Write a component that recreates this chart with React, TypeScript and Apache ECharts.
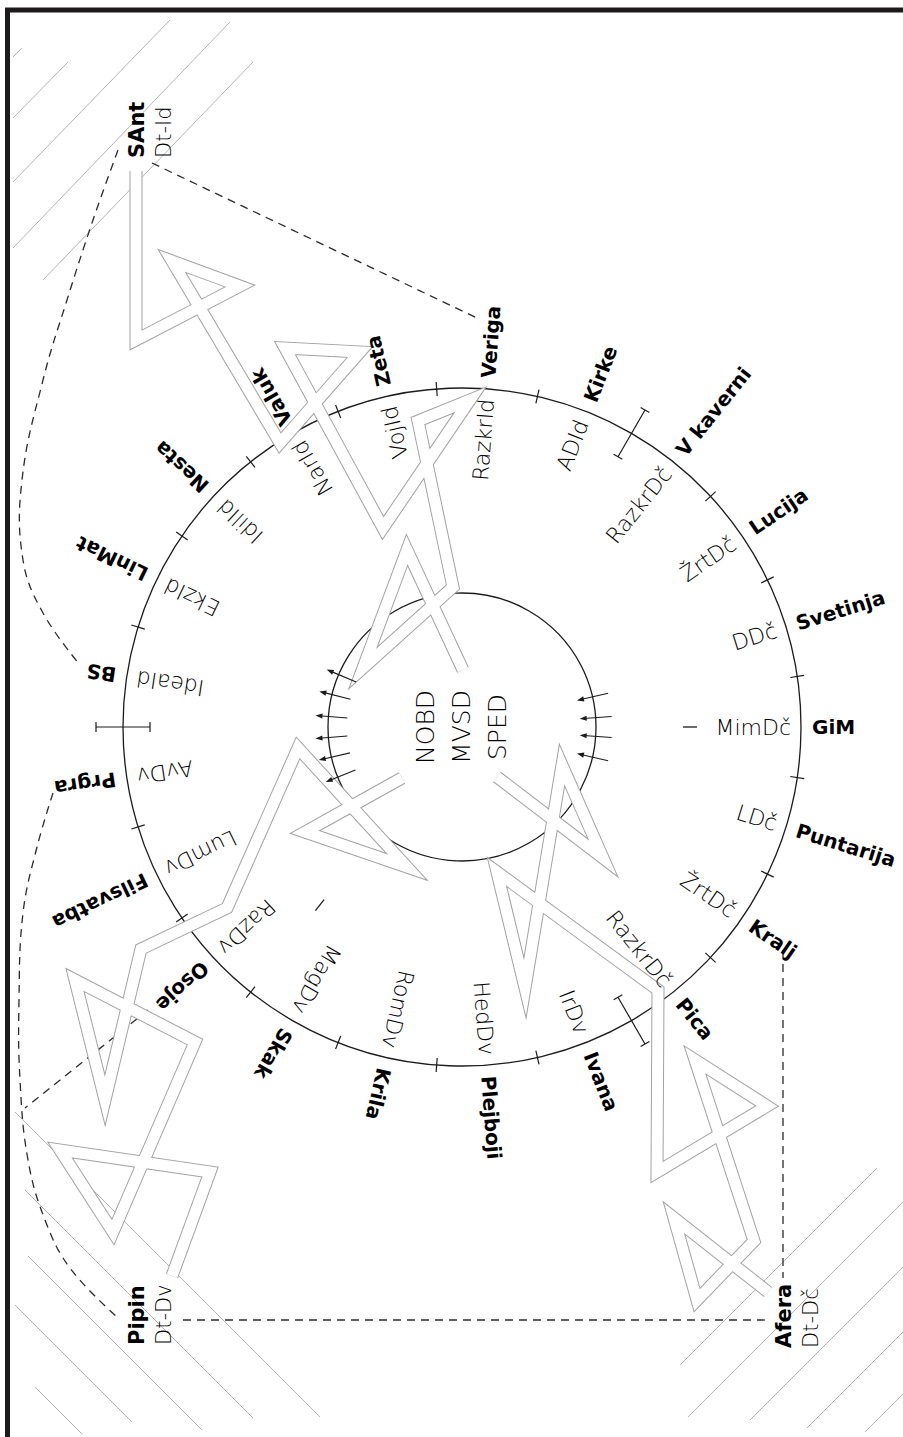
import React, { useEffect, useRef } from "react";
import * as echarts from "echarts";

const W = 903;
const H = 1437;
const CX = 462;
const CY = 727;
const R = 339;

// Labels around the big circle, clockwise from the right (GiM)
const outerLabels = [
  "GiM", "Puntarija", "Kralj", "Pica", "Ivana", "Plejboji", "Krila", "Skak", "Osoje",
  "Filsvatba", "Prgra", "BS", "LinMat", "Nesta", "Valuk", "Zeta", "Veriga", "Kirke",
  "V kaverni", "Lucija", "Svetinja",
];
const innerLabels = [
  "MimDč", "LDč", "ŽrtDč", "RazkrDč", "IrDv", "HedDv", "RomDv", "MagDv", "RazDv",
  "LumDv", "AvDv", "IdeaId", "EkzId", "IdilId", "NarId", "VojId", "RazkrId", "ADId",
  "RazkrDč", "ŽrtDč", "DDč",
];
// boundaries (after these label indices) drawn as I-beams
const beamAfter = [3, 10, 17];
const innerCircleR = 134;
const dashAngles = [0, 128.6];
const leftArrowAngles = [158, 167, 175.5, 184.5, 194, 203];
const rightArrowAngles = [347, 356, 4, 13];
const leftArrowRadii = [115, 147];
const rightArrowRadii = [150, 118];
const centerTexts = ["NOBD", "MVSD", "SPED"];
const centerTextOffsets = [-37, -1, 35];

const cornerNames = ["SAnt", "Pipin", "Afera"];
const cornerCodes = ["Dt-Id", "Dt-Dv", "Dt-Dč"];
const cornerX = [137, 137, 784];
const cornerY = [158, 1345, 1348];

const zigzagA = [
  [136, 171], [136, 340], [240, 286], [172, 261], [280, 443], [360, 352], [285, 348],
  [383, 528], [470, 400], [418, 421], [453, 587], [363, 668], [407, 550], [463, 670],
];
const zigzagB = [
  [172, 1276], [210, 1172], [60, 1150], [113, 1232], [195, 1042], [75, 980], [105, 1100],
  [141, 949], [227, 908], [298, 748], [407, 867], [305, 832], [402, 778],
];
const zigzagC = [
  [768, 1292], [674, 1218], [697, 1300], [754, 1241], [695, 1060], [767, 1106], [657, 1172],
  [658, 990], [497, 872], [525, 988], [562, 765], [603, 858], [497, 777],
];
const zigzags = [zigzagA, zigzagB, zigzagC];

const linkSAntVeriga = [[152, 163], [477, 318]];
const linkSAntBS = [[118, 150], [93, 220], [67, 300], [43, 380], [22, 480], [23, 560], [43, 613], [80, 665]];
const linkPrgraPipin = [[53, 793], [37, 847], [23, 913], [19, 1000], [20, 1080], [28, 1160], [45, 1220], [70, 1268], [117, 1317]];
const linkOsoje = [[148, 1010], [25, 1108]];
const linkPipinAfera = [[183, 1320], [765, 1320]];
const linkKraljAfera = [[783, 950], [783, 1278]];
const links = [linkSAntVeriga, linkSAntBS, linkPrgraPipin, linkOsoje, linkPipinAfera, linkKraljAfera];

const hatchTopLeft = [
  [13, 57, 22, 48], [13, 118, 68, 62], [13, 182, 170, 20], [13, 248, 230, 22], [43, 280, 253, 62],
];
const hatchBottomLeft = [
  [15, 1112, 320, 1417], [25, 1190, 253, 1418], [28, 1256, 202, 1430], [15, 1305, 132, 1422], [35, 1387, 82, 1434],
];
const hatchBottomRight = [
  [877, 1168, 680, 1365], [903, 1202, 688, 1417], [903, 1267, 750, 1420], [903, 1332, 807, 1428], [903, 1394, 865, 1432],
];
const hatch = [...hatchTopLeft, ...hatchBottomLeft, ...hatchBottomRight];

const INK = "#1c1a1b";
const BOLD_FONT = "'DejaVu Sans', 'Noto Sans', sans-serif";
const THIN_FONT = "'DejaVu Sans', 'Noto Sans', sans-serif";

export default function App() {
  const ref = useRef<HTMLDivElement>(null);

  useEffect(() => {
    if (!ref.current) return;
    const chart = echarts.init(ref.current, null, { renderer: "svg", width: W, height: H });
    const n = outerLabels.length;
    const SEG = 360 / n;

    const line = (p1: number[], p2: number[], stroke = INK, lw = 1.2) => ({
      type: "line",
      shape: { x1: p1[0], y1: p1[1], x2: p2[0], y2: p2[1] },
      style: { stroke, lineWidth: lw },
    });

    const option: any = {
      animation: false,
      backgroundColor: "#ffffff",
      grid: { left: 0, top: 0, right: 0, bottom: 0, show: false },
      xAxis: { type: "value", min: 0, max: W, show: false },
      yAxis: { type: "value", min: 0, max: H, inverse: true, show: false },
      polar: { center: [CX, CY], radius: R },
      angleAxis: { type: "value", min: 0, max: 360, startAngle: 0, clockwise: true, show: false },
      radiusAxis: { type: "value", min: 0, max: 1, show: false },
      graphic: [
        { type: "line", z: 100, shape: { x1: 5, y1: 10, x2: W, y2: 10 }, style: { stroke: INK, lineWidth: 5 } },
        { type: "line", z: 100, shape: { x1: 7.5, y1: 8, x2: 7.5, y2: H }, style: { stroke: INK, lineWidth: 5 } },
      ],
      series: [
        {
          name: "hatch",
          type: "custom",
          coordinateSystem: "cartesian2d",
          z: 1,
          dimensions: ["x1", "y1", "x2", "y2"],
          encode: { x: [0, 2], y: [1, 3] },
          data: hatch,
          renderItem: (params: any, api: any) => {
            const p1 = api.coord([api.value(0), api.value(1)]);
            const p2 = api.coord([api.value(2), api.value(3)]);
            return line(p1, p2, "#b4b4b4", 1);
          },
        },
        {
          name: "links",
          type: "custom",
          coordinateSystem: "cartesian2d",
          z: 2,
          data: links.map((_, i) => [i, 0]),
          renderItem: (params: any, api: any) => {
            const pts = links[params.dataIndex].map((p) => api.coord(p));
            return {
              type: "polyline",
              shape: { points: pts, smooth: pts.length > 2 ? 0.4 : 0 },
              style: { stroke: "#2a2a2a", lineWidth: 1.3, fill: "none", lineDash: [8, 6] },
            };
          },
        },
        {
          name: "circles",
          type: "custom",
          coordinateSystem: "polar",
          z: 3,
          data: [[0, 0]],
          renderItem: (params: any, api: any) => {
            const c = api.coord([0, 0]);
            const o = api.coord([1, 0]);
            const rOuter = o[0] - c[0];
            return {
              type: "group",
              children: [
                { type: "circle", shape: { cx: c[0], cy: c[1], r: rOuter }, style: { fill: "none", stroke: INK, lineWidth: 1.3 } },
                { type: "circle", shape: { cx: c[0], cy: c[1], r: rOuter * innerCircleR / R }, style: { fill: "none", stroke: INK, lineWidth: 1.3 } },
              ],
            };
          },
        },
        {
          name: "ticks",
          type: "custom",
          coordinateSystem: "polar",
          z: 3,
          data: outerLabels.map((_, i) => [1, (i + 0.5) * SEG]),
          renderItem: (params: any, api: any) => {
            const i = params.dataIndex;
            const a = api.value(1);
            const isBeam = beamAfter.indexOf(i) >= 0;
            const half = isBeam ? 27 : 7;
            const p1 = api.coord([(R - half) / R, a]);
            const p2 = api.coord([(R + half) / R, a]);
            const children: any[] = [line(p1, p2, INK, 1.2)];
            if (isBeam) {
              const rad = (a * Math.PI) / 180;
              const tx = -Math.sin(rad);
              const ty = Math.cos(rad);
              [p1, p2].forEach((p: number[]) => {
                children.push(line([p[0] - tx * 5, p[1] - ty * 5], [p[0] + tx * 5, p[1] + ty * 5], INK, 1.2));
              });
            }
            return { type: "group", children };
          },
        },
        {
          name: "zigzags",
          type: "custom",
          coordinateSystem: "cartesian2d",
          z: 5,
          data: zigzags.map((_, i) => [i, 0]),
          renderItem: (params: any, api: any) => {
            const pts = zigzags[params.dataIndex].map((p) => api.coord(p));
            return {
              type: "group",
              children: [
                { type: "polyline", shape: { points: pts }, style: { stroke: "#a2a2a2", lineWidth: 13, fill: "none", lineJoin: "miter", miterLimit: 30 } },
                { type: "polyline", shape: { points: pts }, style: { stroke: "#ffffff", lineWidth: 11, fill: "none", lineJoin: "miter", miterLimit: 30 } },
              ],
            };
          },
        },
        {
          name: "arrows",
          type: "custom",
          coordinateSystem: "polar",
          z: 6,
          data: [
            ...leftArrowAngles.map((a) => [leftArrowRadii[0] / R, a, leftArrowRadii[1] / R]),
            ...rightArrowAngles.map((a) => [rightArrowRadii[0] / R, a, rightArrowRadii[1] / R]),
          ],
          renderItem: (params: any, api: any) => {
            const a = api.value(1);
            const t = api.coord([api.value(0), a]);
            const h = api.coord([api.value(2), a]);
            const dx = h[0] - t[0];
            const dy = h[1] - t[1];
            const len = Math.sqrt(dx * dx + dy * dy);
            const ux = dx / len;
            const uy = dy / len;
            const bx = h[0] - ux * 7;
            const by = h[1] - uy * 7;
            return {
              type: "group",
              children: [
                line(t, [h[0] - ux * 4, h[1] - uy * 4], INK, 1.1),
                {
                  type: "polygon",
                  shape: { points: [[h[0], h[1]], [bx - uy * 2.6, by + ux * 2.6], [bx + uy * 2.6, by - ux * 2.6]] },
                  style: { fill: INK, stroke: "none" },
                },
              ],
            };
          },
        },
        {
          name: "dashes",
          type: "custom",
          coordinateSystem: "polar",
          z: 6,
          data: dashAngles.map((a) => [221 / R, a]),
          renderItem: (params: any, api: any) => {
            const a = api.value(1);
            return line(api.coord([api.value(0), a]), api.coord([235 / R, a]), INK, 1.3);
          },
        },
        {
          name: "labels",
          type: "custom",
          coordinateSystem: "polar",
          z: 7,
          data: outerLabels.map((_, i) => [1, i * SEG]),
          renderItem: (params: any, api: any) => {
            const i = params.dataIndex;
            const a = api.value(1);
            const rot = (-a * Math.PI) / 180;
            const po = api.coord([(R + 11) / R, a]);
            const pi = api.coord([(R - 10) / R, a]);
            return {
              type: "group",
              children: [
                {
                  type: "text",
                  x: po[0],
                  y: po[1],
                  rotation: rot,
                  style: { text: outerLabels[i], fill: "#000", fontSize: 20, fontWeight: "bold", fontFamily: BOLD_FONT, align: "left", verticalAlign: "middle" },
                },
                {
                  type: "text",
                  x: pi[0],
                  y: pi[1],
                  rotation: rot,
                  style: { text: innerLabels[i], fill: "#000", fontSize: 22, fontWeight: 200, fontFamily: THIN_FONT, align: "right", verticalAlign: "middle" },
                },
              ],
            };
          },
        },
        {
          name: "centre",
          type: "custom",
          coordinateSystem: "polar",
          z: 7,
          data: centerTexts.map(() => [0, 0]),
          renderItem: (params: any, api: any) => {
            const c = api.coord([0, 0]);
            const i = params.dataIndex;
            return {
              type: "text",
              x: c[0] + centerTextOffsets[i],
              y: c[1],
              rotation: Math.PI / 2,
              style: { text: centerTexts[i], fill: "#000", fontSize: 25, fontWeight: 200, fontFamily: THIN_FONT, align: "center", verticalAlign: "middle" },
            };
          },
        },
        {
          name: "corners",
          type: "custom",
          coordinateSystem: "cartesian2d",
          z: 7,
          data: cornerNames.map((_, i) => [cornerX[i], cornerY[i]]),
          renderItem: (params: any, api: any) => {
            const i = params.dataIndex;
            const p = api.coord([api.value(0), api.value(1)]);
            return {
              type: "group",
              children: [
                {
                  type: "text",
                  x: p[0],
                  y: p[1],
                  rotation: Math.PI / 2,
                  style: { text: cornerNames[i], fill: "#000", fontSize: 21, fontWeight: "bold", fontFamily: BOLD_FONT, align: "left", verticalAlign: "middle" },
                },
                {
                  type: "text",
                  x: p[0] + 27,
                  y: p[1],
                  rotation: Math.PI / 2,
                  style: { text: cornerCodes[i], fill: "#000", fontSize: 21, fontWeight: 200, fontFamily: THIN_FONT, align: "left", verticalAlign: "middle" },
                },
              ],
            };
          },
        },
      ],
    };

    chart.setOption(option);
    return () => chart.dispose();
  }, []);

  return (
    <div
      ref={ref}
      style={{ position: "absolute", left: 0, top: 0, width: W, height: H, background: "#ffffff" }}
    />
  );
}
